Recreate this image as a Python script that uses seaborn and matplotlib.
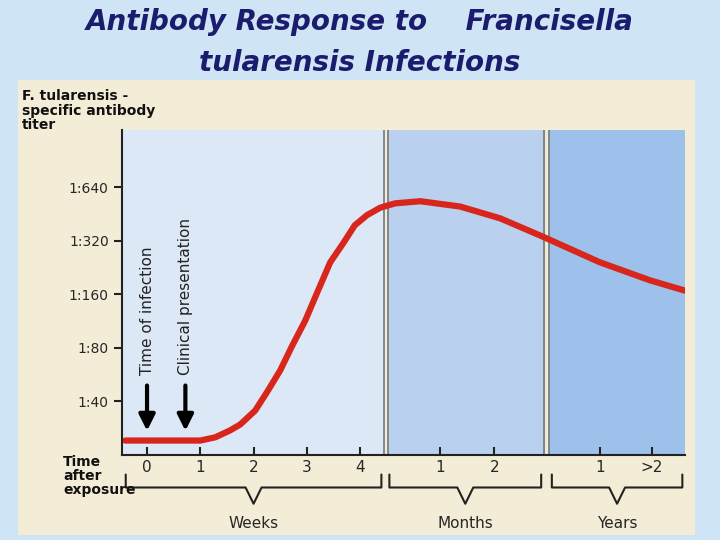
import numpy as np
import pandas as pd
import seaborn as sns
import matplotlib.pyplot as plt
from matplotlib.patches import Rectangle

# time axis: weeks 0-4, then months panel, then years panel (layout units)
curve_x = [-0.41, 1.0, 1.28, 1.56, 1.75, 2.03, 2.25, 2.5, 2.72, 2.97, 3.21, 3.44, 3.68, 3.9,
           4.13, 4.38, 4.66, 5.13, 5.88, 6.63, 7.38, 8.5, 9.45, 10.1]
# log2 titer level relative to 1:40
curve_y = [-0.73, -0.73, -0.67, -0.54, -0.43, -0.17, 0.17, 0.58, 1.03, 1.51, 2.07, 2.6, 2.95, 3.29,
           3.48, 3.62, 3.70, 3.74, 3.64, 3.42, 3.1, 2.6, 2.26, 2.07]
titer_labels = ['1:40', '1:80', '1:160', '1:320', '1:640']
week_ticks = [0, 1, 2, 3, 4]
month_ticks = [5.5, 6.52]
month_labels = ['1', '2']
year_ticks = [8.5, 9.48]
year_labels = ['1', '>2']

sns.set_theme(style='white')
plt.rcParams['font.family'] = ['DejaVu Sans']

fig = plt.figure(figsize=(7.2, 5.4), dpi=100)
fig.patch.set_facecolor('#cfe4f4')
bg = fig.add_axes([0, 0, 1, 1], zorder=-1)
bg.set_xlim(0, 720)
bg.set_ylim(540, 0)
bg.axis('off')
bg.add_patch(Rectangle((18, 80), 677, 455, facecolor='#f3ecd6', edgecolor='none'))

fig.text(0.5, 0.96, 'Antibody Response to    Francisella', ha='center', va='center',
         fontsize=20, style='italic', weight='bold', color='#1c1c6e')
fig.text(0.5, 0.883, 'tularensis Infections', ha='center', va='center',
         fontsize=20, style='italic', weight='bold', color='#1c1c6e')
fig.text(0.03, 0.835, 'F. tularensis -\nspecific antibody\ntiter', ha='left', va='top',
         fontsize=10, weight='bold', color='#111111', linespacing=1.05)
fig.text(0.088, 0.118, 'Time\nafter\nexposure', ha='left', va='center',
         fontsize=10, weight='bold', color='#111111', linespacing=1.0)

ax = fig.add_axes([122/720, 1-455/540, 563/720, 325/540])
ax.set_xlim(-0.47, 10.1)
ax.set_ylim(-1.0, 5.07)
ax.set_facecolor('#f3ecd6')
ax.axvspan(-0.47, 4.44, color='#dce8f6', zorder=0)
ax.axvspan(4.53, 7.45, color='#b9d1ef', zorder=0)
ax.axvspan(7.55, 10.1, color='#9dc1ea', zorder=0)
for sx in [4.44, 4.53, 7.45, 7.55]:
    ax.axvline(sx, color='#777777', lw=1.2)

sns.lineplot(x=curve_x, y=curve_y, ax=ax, color='#d8261c', lw=4.5, sort=False)

for s in ['top', 'right']:
    ax.spines[s].set_visible(False)
ax.spines['left'].set_color('#222222')
ax.spines['bottom'].set_color('#222222')
ax.spines['left'].set_linewidth(1.5)
ax.spines['bottom'].set_linewidth(1.5)
ax.set_yticks(range(len(titer_labels)))
ax.set_yticklabels(titer_labels, fontsize=10)
ax.set_xticks(week_ticks + month_ticks + year_ticks)
ax.set_xticklabels([str(w) for w in week_ticks] + month_labels + year_labels, fontsize=11)
ax.tick_params(axis='both', direction='in', length=6, width=1.5, color='#222222', left=True, bottom=True)
ax.tick_params(axis='y', direction='out')

# event arrows
for xe, lab in [(0, 'Time of infection'), (0.72, 'Clinical presentation')]:
    ax.annotate('', xy=(xe, -0.6), xytext=(xe, 0.35),
                arrowprops=dict(arrowstyle='-|>,head_width=0.4,head_length=0.8', color='black', lw=3))
    ax.text(xe, 0.5, lab, rotation=90, ha='center', va='bottom', fontsize=11, color='#222222')

# braces
def brace(x0, x1, label):
    tr = ax.get_xaxis_transform()
    xm = (x0 + x1) / 2
    ax.plot([x0, x0, xm - 0.15, xm, xm + 0.15, x1, x1], [-0.06, -0.1, -0.1, -0.15, -0.1, -0.1, -0.06],
            transform=tr, color='#222222', lw=1.5, clip_on=False)
    ax.text(xm, -0.21, label, transform=tr, ha='center', va='center', fontsize=11)

brace(-0.4, 4.4, 'Weeks')
brace(4.55, 7.4, 'Months')
brace(7.6, 10.05, 'Years')

fig.savefig('out.png', dpi=100, facecolor=fig.get_facecolor())
